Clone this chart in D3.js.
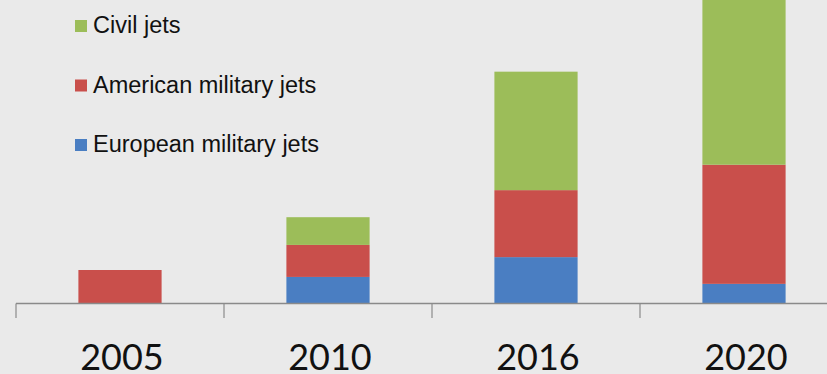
<!DOCTYPE html>
<html>
<head>
<meta charset="utf-8">
<script src="https://cdn.jsdelivr.net/npm/d3@7"></script>
<style>
  html, body { margin: 0; padding: 0; background: #eaeaea; }
  svg { display: block; }
</style>
</head>
<body>
<svg id="chart" width="827" height="374"></svg>
<script>
const years = ["2005", "2010", "2016", "2020"];
const seriesNames = ["European military jets", "American military jets", "Civil jets"];
const european = [0, 7.9, 13.9, 5.8];
const american = [10, 9.7, 20.3, 36.1];
const civil = [0, 8.4, 35.9, 55];
const legendOrder = ["Civil jets", "American military jets", "European military jets"];

const colors = {
  "European military jets": "#4a7ec2",
  "American military jets": "#c94f4b",
  "Civil jets": "#9cbd59"
};

const W = 827, H = 374;
const svg = d3.select("#chart");

svg.append("rect").attr("width", W).attr("height", H).attr("fill", "#eaeaea");

const rows = years.map((y, i) => ({
  year: y,
  "European military jets": european[i],
  "American military jets": american[i],
  "Civil jets": civil[i]
}));

const x = d3.scaleBand().domain(years).range([16, 848]).paddingInner(0.6).paddingOuter(0.3);
const y = d3.scaleLinear().domain([0, 100]).range([303, -27]);

const stack = d3.stack().keys(seriesNames)(rows);

svg.append("g").selectAll("g")
  .data(stack).join("g")
  .attr("fill", d => colors[d.key])
  .selectAll("rect")
  .data(d => d).join("rect")
  .attr("x", d => x(d.data.year))
  .attr("width", x.bandwidth())
  .attr("y", d => y(d[1]))
  .attr("height", d => y(d[0]) - y(d[1]));

// axis line and ticks at category boundaries
const axisG = svg.append("g");
axisG.append("line")
  .attr("x1", 16).attr("x2", W)
  .attr("y1", 303.5).attr("y2", 303.5)
  .attr("stroke", "#8a8a8a").attr("stroke-width", 1.5);

const step = x.step();
axisG.selectAll("line.tick")
  .data(years).join("line")
  .attr("class", "tick")
  .attr("x1", d => x(d) + x.bandwidth() / 2 - step / 2)
  .attr("x2", d => x(d) + x.bandwidth() / 2 - step / 2)
  .attr("y1", 303.5).attr("y2", 318)
  .attr("stroke", "#8a8a8a").attr("stroke-width", 1.2);

// year labels
svg.append("g").selectAll("text")
  .data(years).join("text")
  .attr("x", d => x(d) + x.bandwidth() / 2 + 2)
  .attr("y", 370)
  .attr("text-anchor", "middle")
  .attr("font-family", "Lato, 'Open Sans', sans-serif")
  .attr("font-size", 36)
  .attr("fill", "#111")
  .text(d => d);

// legend
const leg = svg.append("g");
legendOrder.forEach((name, i) => {
  const by = 33 + i * 59.5;
  leg.append("rect")
    .attr("x", 75).attr("y", by - 13)
    .attr("width", 12).attr("height", 12)
    .attr("fill", colors[name]);
  leg.append("text")
    .attr("x", 93).attr("y", by)
    .attr("font-family", "'Liberation Sans', Arial, sans-serif")
    .attr("font-size", 23.5)
    .attr("fill", "#111")
    .text(name);
});
</script>
</body>
</html>
